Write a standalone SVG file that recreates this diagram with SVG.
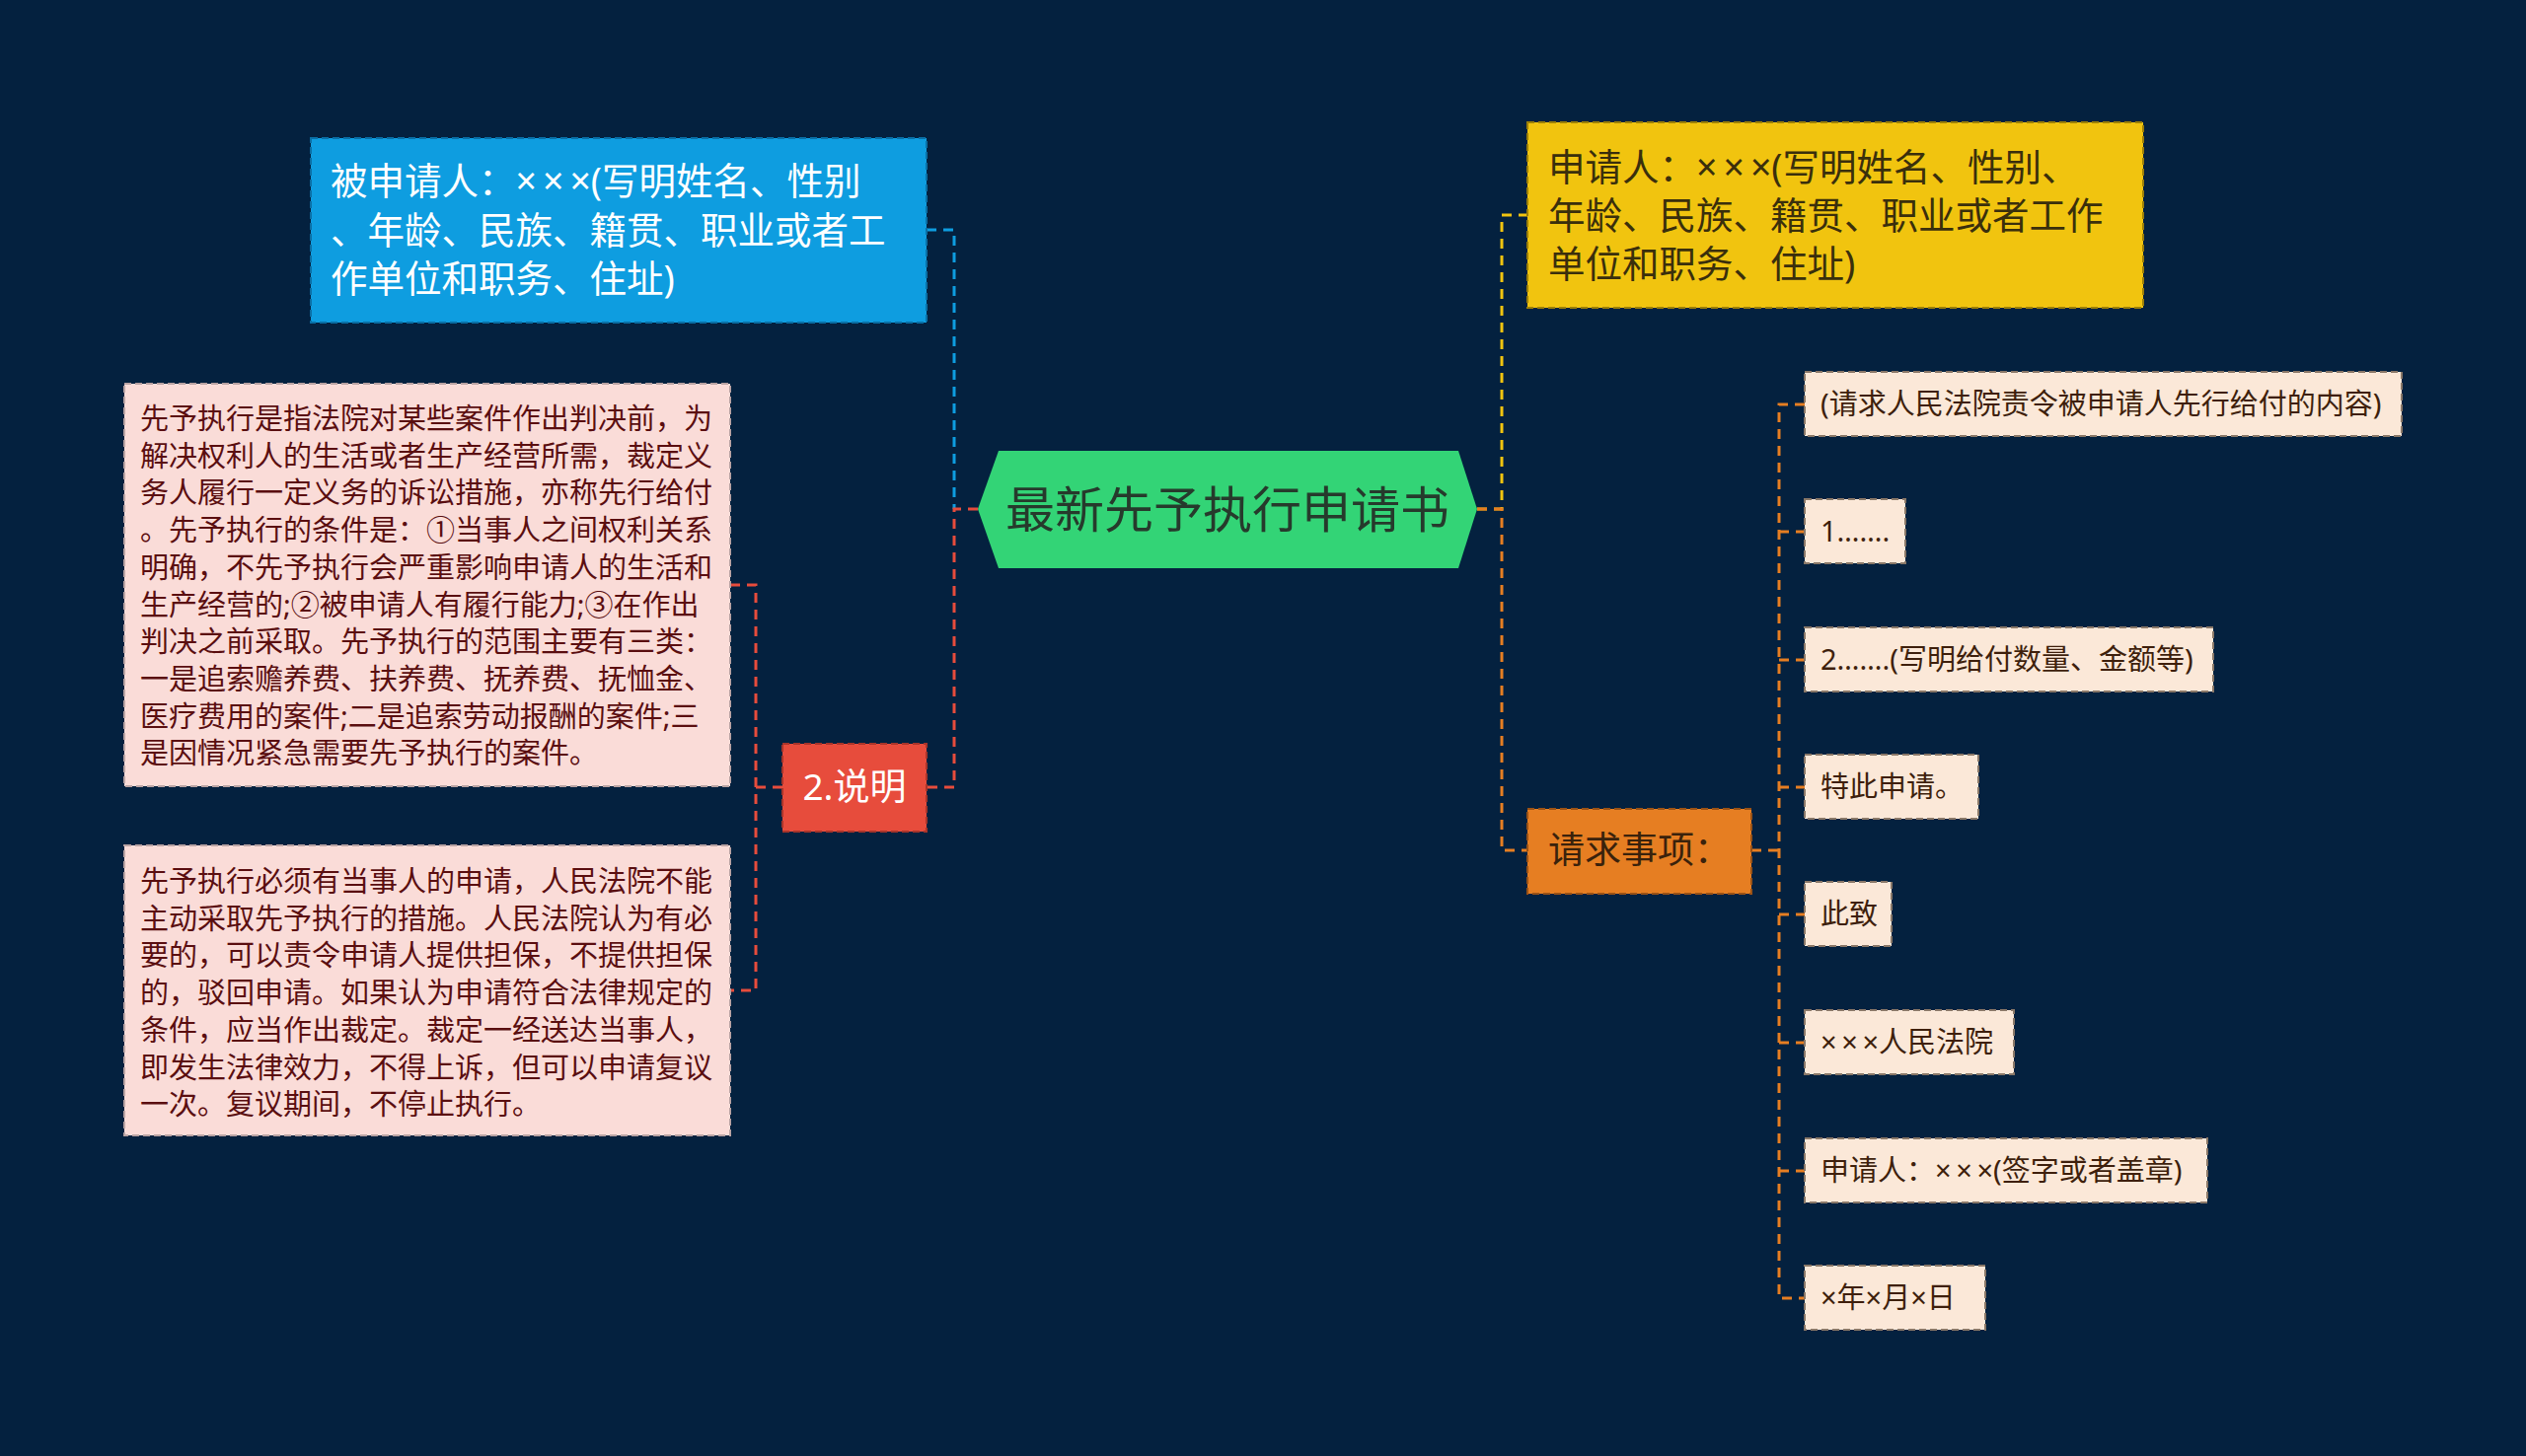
<svg xmlns="http://www.w3.org/2000/svg" width="2560" height="1476" viewBox="0 0 2560 1476">
<style>
text{font-family:"Noto Sans","Noto Sans CJK SC",sans-serif}
.c{fill:none;stroke-width:3;stroke-dasharray:10 7}
.bl{stroke:#0e9de0}.rd{stroke:#e74c3c}.yl{stroke:#f1c40f}.or{stroke:#e67e22}
.box{stroke-width:2;stroke-dasharray:7 4}
.pk{fill:#fadcd8;stroke:#b9a3a3}
.lf{fill:#fbe8d8;stroke:#8a7868}
.pt{font-size:29px;fill:#5a0e10}
.lt{font-size:29px;fill:#3e1f0c}
.big{font-size:37.5px}
.x{letter-spacing:0.16em}
</style>
<rect width="2560" height="1476" fill="#04213f"/>
<g id="connectors">
<path class="c bl" d="M939,233 H967 V516"/>
<path class="c rd" d="M991,516 H967 V798 H939"/>
<path class="c rd" d="M793,798 H766"/>
<path class="c rd" d="M740,593 H766 V1004 H740"/>
<path class="c yl" d="M1497,516 H1522 V218 H1548"/>
<path class="c or" d="M1497,516 H1522 V862 H1548"/>
<path class="c or" d="M1775,862 H1803"/>
<path class="c or" d="M1829,410 H1803 V1316 H1829"/>
<path class="c or" d="M1803,539 H1829 M1803,669 H1829 M1803,798 H1829 M1803,927 H1829 M1803,1057 H1829 M1803,1187 H1829"/>
</g>
<g id="root">
<polygon points="991,516 1012,457 1478,457 1497,516 1478,576 1012,576" fill="#33d476"/>
<text x="1244" y="535" text-anchor="middle" font-size="50" fill="#263a2c">最新先予执行申请书</text>
</g>
<g id="respondent">
<rect class="box" x="315" y="140" width="624" height="187" fill="#0e9de0" stroke="#0a6fa5"/>
<text class="big" fill="#ffffff"><tspan x="335" y="197">被申请人：<tspan class="x">××</tspan>×(写明姓名、性别</tspan><tspan x="335" y="247">、年龄、民族、籍贯、职业或者工</tspan><tspan x="335" y="296">作单位和职务、住址)</tspan></text>
</g>
<g id="explain">
<rect class="box" x="793" y="754" width="146" height="89" fill="#e74c3c" stroke="#a8342a"/>
<text x="866" y="811" text-anchor="middle" font-size="37" fill="#ffffff">2.说明</text>
</g>
<g id="explain-1">
<rect class="box pk" x="126" y="389" width="614" height="408"/>
<text class="pt"><tspan x="142" y="435">先予执行是指法院对某些案件作出判决前，为</tspan><tspan x="142" y="472.7">解决权利人的生活或者生产经营所需，裁定义</tspan><tspan x="142" y="510.4">务人履行一定义务的诉讼措施，亦称先行给付</tspan><tspan x="142" y="548.1">。先予执行的条件是：①当事人之间权利关系</tspan><tspan x="142" y="585.8">明确，不先予执行会严重影响申请人的生活和</tspan><tspan x="142" y="623.5">生产经营的;②被申请人有履行能力;③在作出</tspan><tspan x="142" y="661.2">判决之前采取。先予执行的范围主要有三类：</tspan><tspan x="142" y="698.9">一是追索赡养费、扶养费、抚养费、抚恤金、</tspan><tspan x="142" y="736.6">医疗费用的案件;二是追索劳动报酬的案件;三</tspan><tspan x="142" y="774.3">是因情况紧急需要先予执行的案件。</tspan></text>
</g>
<g id="explain-2">
<rect class="box pk" x="126" y="857" width="614" height="294"/>
<text class="pt"><tspan x="142" y="904">先予执行必须有当事人的申请，人民法院不能</tspan><tspan x="142" y="941.7">主动采取先予执行的措施。人民法院认为有必</tspan><tspan x="142" y="979.4">要的，可以责令申请人提供担保，不提供担保</tspan><tspan x="142" y="1017.1">的，驳回申请。如果认为申请符合法律规定的</tspan><tspan x="142" y="1054.8">条件，应当作出裁定。裁定一经送达当事人，</tspan><tspan x="142" y="1092.5">即发生法律效力，不得上诉，但可以申请复议</tspan><tspan x="142" y="1130.2">一次。复议期间，不停止执行。</tspan></text>
</g>
<g id="applicant">
<rect class="box" x="1548" y="124" width="624" height="188" fill="#f1c40f" stroke="#9c7f08"/>
<text class="big" fill="#3a2f0c"><tspan x="1569" y="183">申请人：<tspan class="x">××</tspan>×(写明姓名、性别、</tspan><tspan x="1569" y="232">年龄、民族、籍贯、职业或者工作</tspan><tspan x="1569" y="281">单位和职务、住址)</tspan></text>
</g>
<g id="request">
<rect class="box" x="1548" y="820" width="227" height="86" fill="#e67e22" stroke="#9a5216"/>
<text x="1569" y="875" font-size="37" fill="#3a220c">请求事项：</text>
</g>
<g id="leaf-1">
<rect class="box lf" x="1829" y="377" width="605" height="65"/>
<text class="lt" x="1845" y="420">(请求人民法院责令被申请人先行给付的内容)</text>
</g>
<g id="leaf-2">
<rect class="box lf" x="1829" y="506" width="102" height="65"/>
<text class="lt" x="1845" y="549">1…….</text>
</g>
<g id="leaf-3">
<rect class="box lf" x="1829" y="636" width="414" height="65"/>
<text class="lt" x="1845" y="679">2…….(写明给付数量、金额等)</text>
</g>
<g id="leaf-4">
<rect class="box lf" x="1829" y="765" width="176" height="65"/>
<text class="lt" x="1845" y="808">特此申请。</text>
</g>
<g id="leaf-5">
<rect class="box lf" x="1829" y="894" width="88" height="65"/>
<text class="lt" x="1845" y="937">此致</text>
</g>
<g id="leaf-6">
<rect class="box lf" x="1829" y="1024" width="212" height="65"/>
<text class="lt" x="1845" y="1067"><tspan class="x">××</tspan>×人民法院</text>
</g>
<g id="leaf-7">
<rect class="box lf" x="1829" y="1154" width="408" height="65"/>
<text class="lt" x="1845" y="1197">申请人：<tspan class="x">××</tspan>×(签字或者盖章)</text>
</g>
<g id="leaf-8">
<rect class="box lf" x="1829" y="1283" width="183" height="65"/>
<text class="lt" x="1845" y="1326">×年×月×日</text>
</g>
</svg>
